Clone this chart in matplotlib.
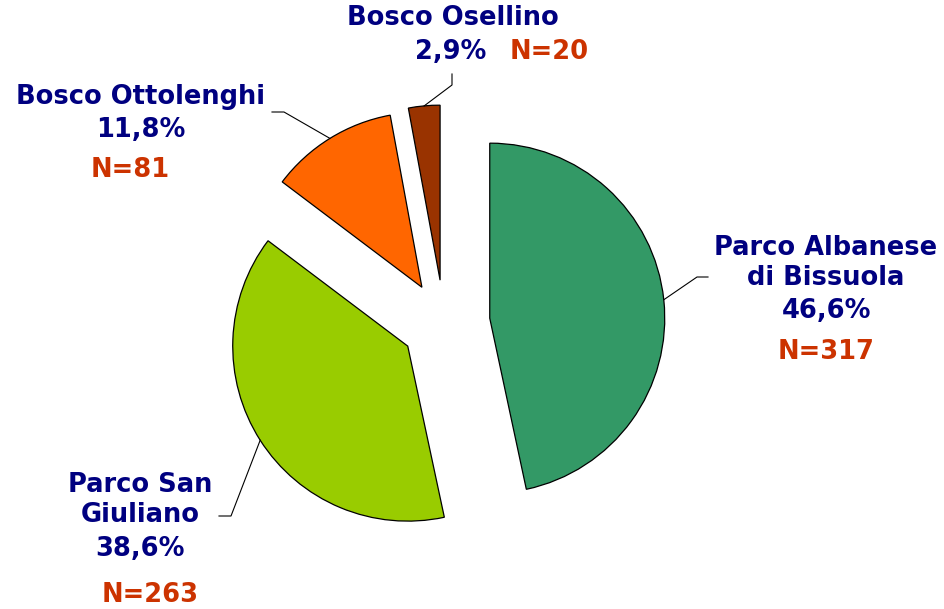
import numpy as np
import matplotlib.pyplot as plt

W, H = 944, 609

names = ['Parco Albanese\ndi Bissuola', 'Parco San\nGiuliano', 'Bosco Ottolenghi', 'Bosco Osellino']
pcts = [46.6, 38.6, 11.8, 2.9]
counts = [317, 263, 81, 20]
colors = ['#339966', '#99CC00', '#FF6600', '#993300']

# layout in screen pixels (origin top-left)
name_xy = [(826, 263), (140, 500), (141, 97), (453, 18)]
pct_xy = [(827, 311), (140, 549), (141, 130), (451, 52)]
n_xy = [(826, 352), (150, 595), (130, 170), (549, 52)]
elbow = [[(697, 277), (708, 277)], [(231, 516), (219, 516)],
         [(284, 112), (272, 112)], [(452, 85), (452, 74)]]


def px(x, y):
    return x, H - y


fig = plt.figure(figsize=(W / 100, H / 100), dpi=100)
ax = fig.add_axes([0, 0, 1, 1])

wedges, _ = ax.pie(pcts, colors=colors, startangle=90, counterclock=False,
                   explode=[46, 43, 42, 43], radius=175, center=px(444, 323),
                   wedgeprops=dict(edgecolor='black', linewidth=0.9),
                   frame=True)
ax.set_xlim(0, W)
ax.set_ylim(0, H)
ax.set_aspect('equal')
ax.axis('off')

font = dict(family='DejaVu Sans', weight='bold', fontsize=18.5)
for i, w in enumerate(wedges):
    ax.text(*px(*name_xy[i]), names[i], ha='center', va='center', color='#000080',
            linespacing=1.2, **font)
    ax.text(*px(*pct_xy[i]), f'{pcts[i]:.1f}'.replace('.', ',') + '%',
            ha='center', va='center', color='#000080', **font)
    ax.text(*px(*n_xy[i]), f'N={counts[i]}', ha='center', va='center',
            color='#CC3300', **font)
    # leader line from the middle of the wedge's arc
    mid = np.deg2rad((w.theta1 + w.theta2) / 2)
    cx, cy = w.center
    pts = [(cx + w.r * np.cos(mid), cy + w.r * np.sin(mid))]
    pts += [px(*p) for p in elbow[i]]
    xs, ys = zip(*pts)
    ax.plot(xs, ys, color='black', linewidth=0.8)

fig.savefig('out.png', dpi=100)
